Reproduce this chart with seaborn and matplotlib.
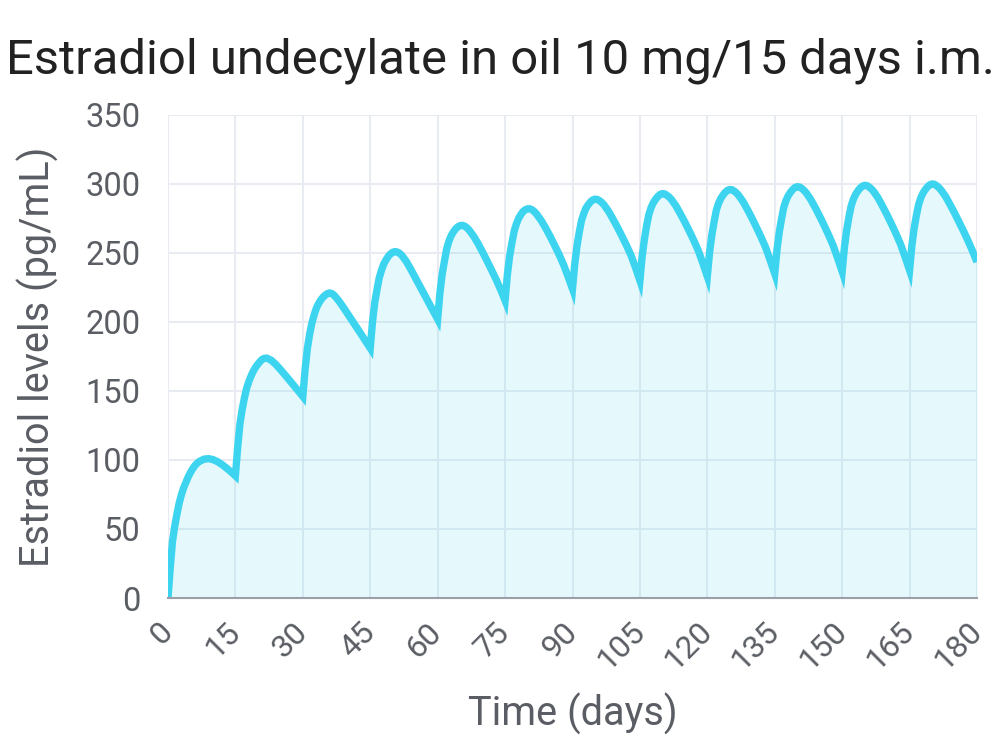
import pandas as pd
import numpy as np
import seaborn as sns
import matplotlib.pyplot as plt

# days of each injection and the sampling offsets (days after each injection)
dose_days = [0, 15, 30, 45, 60, 75, 90, 105, 120, 135, 150, 165]
offsets = [0, 0.5, 1, 1.5, 2, 2.5, 3, 3.5, 4, 4.5, 5, 5.5, 6, 6.5, 7, 8, 9, 10, 11, 12, 13, 14]

# estradiol levels (pg/mL), one list per injection cycle
cycle_01 = [0, 22, 41, 52, 61, 69, 75, 80, 84, 87.8, 91, 93.7, 96, 97.7, 99, 100.6, 101, 100.3, 98.8, 96.7, 94.2, 91.5]
cycle_02 = [88.5, 109, 126, 136.5, 145, 152, 157, 161, 164.5, 167.2, 169.5, 171.4, 173, 173.7, 173.8, 172.2, 169.2, 165.6, 161.8, 157.9, 154, 150]
cycle_03 = [146, 165.5, 180.5, 191, 199, 205, 210, 213.3, 216, 218, 219.5, 220.6, 221, 220.5, 219.2, 215.3, 210.7, 205.8, 200.9, 196, 191, 186]
cycle_04 = [181, 200, 214, 223.5, 232, 237.5, 242, 245, 247.5, 249.3, 250.5, 251, 250.7, 249.8, 248.3, 244, 238.3, 232.3, 226.2, 220.1, 214, 208]
cycle_05 = [202, 221, 234.5, 244, 253, 258.5, 262.5, 265.3, 267.5, 269, 269.8, 270, 269.5, 268.3, 266.6, 262.2, 256.7, 250.6, 244.2, 237.6, 230.8, 223.5]
cycle_06 = [215.5, 234, 247.5, 257, 265.5, 271, 275, 277.8, 280, 281.3, 282, 282, 281.3, 280, 278.2, 273.7, 268.2, 262.2, 255.7, 249, 241.6, 233]
cycle_07 = [224, 242, 255, 265, 273.5, 278.5, 282.5, 285, 287, 288.4, 289, 288.8, 287.9, 286.6, 284.9, 280.3, 274.6, 268.6, 262.2, 255.6, 248.4, 239.6]
cycle_08 = [230, 247.5, 260, 270, 278, 283, 286.5, 289, 291, 292.4, 293, 292.8, 291.8, 290.5, 288.8, 284.2, 278.4, 272.3, 265.8, 259, 251.6, 242.6]
cycle_09 = [233, 250.5, 263, 272.5, 281, 286, 289.5, 292, 294, 295.4, 296, 295.8, 294.8, 293.4, 291.6, 286.9, 281, 274.8, 268.1, 261.2, 253.8, 244.6]
cycle_10 = [235, 252.5, 265, 274.5, 283, 288, 291.5, 294, 296, 297.4, 298, 297.8, 296.8, 295.4, 293.6, 288.8, 282.9, 276.6, 269.9, 262.9, 255.4, 246.2]
cycle_11 = [236.5, 254, 266.5, 276, 284, 289, 292.5, 295, 297, 298.4, 299, 298.8, 297.8, 296.4, 294.6, 289.8, 283.8, 277.5, 270.8, 263.8, 256.3, 247.1]
cycle_12 = [237.5, 255, 267.5, 277, 285, 290, 293.5, 296, 298, 299.4, 300, 299.8, 298.8, 297.4, 295.6, 291, 285.1, 279, 272.5, 265.9, 258.9, 251.4]
end_day = 180
end_level = 243.5

cycles = [cycle_01, cycle_02, cycle_03, cycle_04, cycle_05, cycle_06,
          cycle_07, cycle_08, cycle_09, cycle_10, cycle_11, cycle_12]

rows = []
for d0, levels in zip(dose_days, cycles):
    for o, v in zip(offsets, levels):
        rows.append((d0 + o, v))
rows.append((end_day, end_level))
df = pd.DataFrame(rows, columns=["day", "level"])

x_ticks = list(range(0, 181, 15))
y_ticks = list(range(0, 351, 50))

line_color = "#3dd4f0"
grid_color = "#e8ebf1"
text_color = "#5a5d63"

sns.set_style("white")
plt.rcParams['font.family'] = ['Roboto', 'DejaVu Sans']

fig = plt.figure(figsize=(10, 7.49), dpi=100)
ax = fig.add_axes([0.168, 0.2016, 0.809, 0.6449])

ax.fill_between(df["day"], 0, df["level"], color=line_color, alpha=0.13, lw=0, zorder=1)
sns.lineplot(data=df, x="day", y="level", ax=ax, color=line_color, lw=5.3,
             solid_joinstyle="miter", solid_capstyle="butt", zorder=3)

ax.set_xlim(0, 180)
ax.set_ylim(0, 350)
ax.set_xticks(x_ticks)
ax.set_yticks(y_ticks)
ax.grid(True, color=grid_color, lw=1.5)
ax.set_axisbelow(True)
for s in ["top", "right", "left"]:
    ax.spines[s].set_visible(False)
ax.spines["bottom"].set_color("#9aa0a6")
ax.spines["bottom"].set_linewidth(1.5)
ax.spines["bottom"].set_zorder(4)

ax.tick_params(axis="x", length=11, width=1.5, color=grid_color, labelsize=23,
               labelcolor=text_color, pad=10)
ax.tick_params(axis="y", length=18, width=1.5, color=grid_color, labelsize=23.5,
               labelcolor=text_color, pad=2)
for lab in ax.get_xticklabels():
    lab.set_rotation(45)
    lab.set_ha("right")
    lab.set_va("center")
    lab.set_rotation_mode("anchor")

ax.set_xlabel("Time (days)", fontsize=28.5, color=text_color, labelpad=12)
ax.set_ylabel("Estradiol levels (pg/mL)", fontsize=28.5, color=text_color, labelpad=19)
fig.text(0.5, 1 - 73 / 749, "Estradiol undecylate in oil 10 mg/15 days i.m.",
         fontsize=35.3, color="#222222", ha="center", va="baseline")

fig.savefig("out.png", dpi=100)
